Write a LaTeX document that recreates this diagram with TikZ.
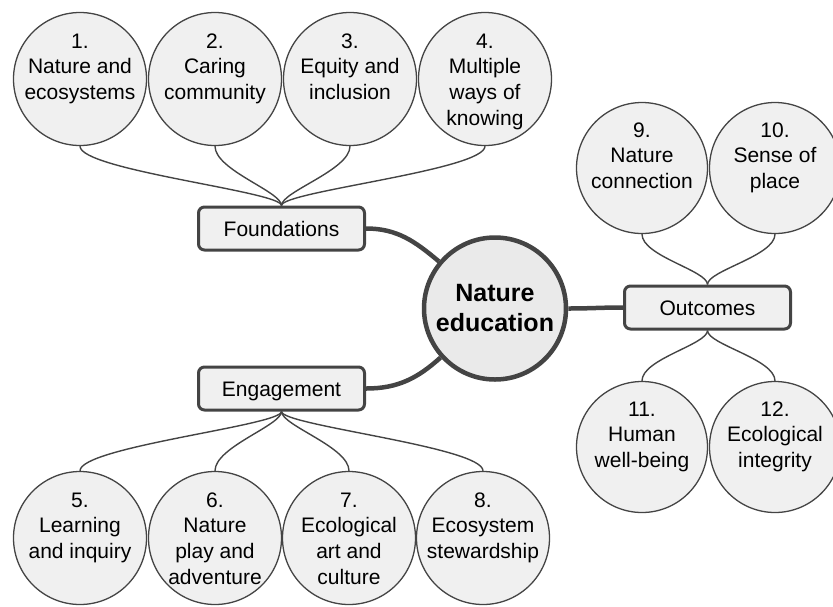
\documentclass[tikz,border=0pt]{standalone}
\usepackage{fontspec}
\setmainfont{Liberation Sans}
\definecolor{inkgray}{RGB}{68,68,68}
\definecolor{bubblefill}{RGB}{240,240,240}
\newcommand{\cellstack}[1]{\begin{tabular}[t]{@{}c@{}}#1\end{tabular}}
\tikzset{
  bubble/.style={circle,draw=inkgray,line width=1.3pt,fill=bubblefill,
    minimum size=133pt,inner sep=-20pt,text height=15pt,text depth=77pt,
    font=\fontsize{21}{25.7}\selectfont},
  smallbubble/.style={bubble,minimum size=131pt},
  hub/.style={circle,draw=inkgray,line width=4.5pt,fill=bubblefill!95!gray,
    minimum size=142pt,inner sep=0pt,align=center,
    font=\fontsize{25}{30}\selectfont\bfseries},
  branch/.style={rectangle,rounded corners=6pt,draw=inkgray,line width=3pt,
    fill=bubblefill,minimum width=166pt,minimum height=43pt,inner sep=0pt,
    text height=15pt,text depth=0pt,font=\fontsize{21}{25}\selectfont},
  trunk/.style={draw=inkgray,line width=4.5pt},
  twig/.style={draw=inkgray,line width=1.4pt}
}

\begin{document}
\begin{tikzpicture}[x=1pt,y=-1pt]
  \useasboundingbox (0,0) rectangle (833,606);

  % centre and the three branches
  \node[hub] (core) at (495,308.5) {Nature\\education};
  \node[branch] (found) at (281.5,228.5) {Foundations};
  \node[branch] (engage) at (281.5,388.5) {Engagement};
  \node[branch] (outc) at (707.5,307.5) {Outcomes};

  % foundations
  \node[bubble] (c1) at (80,79) {\cellstack{1.\\Nature and\\ecosystems}};
  \node[bubble] (c2) at (215,79) {\cellstack{2.\\Caring\\community}};
  \node[bubble] (c3) at (350,79) {\cellstack{3.\\Equity and\\inclusion}};
  \node[bubble] (c4) at (485,79) {\cellstack{4.\\Multiple\\ways of\\knowing}};

  % engagement
  \node[bubble] (c5) at (80,538) {\cellstack{5.\\Learning\\and inquiry}};
  \node[bubble] (c6) at (215,538) {\cellstack{6.\\Nature\\play and\\adventure}};
  \node[bubble] (c7) at (349,538) {\cellstack{7.\\Ecological\\art and\\culture}};
  \node[bubble] (c8) at (483,538) {\cellstack{8.\\Ecosystem\\stewardship}};

  % outcomes
  \node[smallbubble] (c9) at (642,168) {\cellstack{9.\\Nature\\connection}};
  \node[smallbubble] (c10) at (775,168) {\cellstack{10.\\Sense of\\place}};
  \node[smallbubble] (c11) at (642,447) {\cellstack{11.\\Human\\well-being}};
  \node[smallbubble] (c12) at (775,447) {\cellstack{12.\\Ecological\\integrity}};

  \draw[trunk] (found.east) to[out=0,in=140] (core);
  \draw[trunk] (engage.east) to[out=0,in=222] (core);
  \draw[trunk] (core) to[out=0,in=180] (outc.west);

  \foreach \c in {c1,c2,c3,c4}
    \draw[twig] (\c.south) .. controls +(0,24) and +(0,-14) .. (found.north);
  \foreach \c in {c5,c6,c7,c8}
    \draw[twig] (engage.south) .. controls +(0,14) and +(0,-24) .. (\c.north);
  \foreach \c in {c9,c10}
    \draw[twig] (\c.south) .. controls +(0,22) and +(0,-14) .. (outc.north);
  \foreach \c in {c11,c12}
    \draw[twig] (outc.south) .. controls +(0,14) and +(0,-22) .. (\c.north);
\end{tikzpicture}
\end{document}
